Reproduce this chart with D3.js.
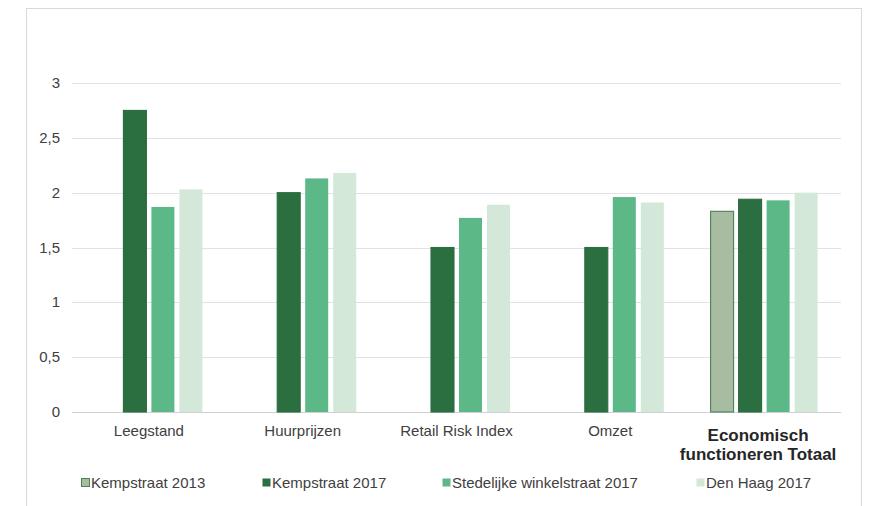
<!DOCTYPE html>
<html>
<head>
<meta charset="utf-8">
<script src="https://cdn.jsdelivr.net/npm/d3@7"></script>
<style>
  body { margin: 0; background: #fff; }
  text { font-family: "Liberation Sans", Arial, sans-serif; fill: #404040; }
</style>
</head>
<body>
<div id="dataviz"></div>
<script>
// data
var categories = ["Leegstand", "Huurprijzen", "Retail Risk Index", "Omzet", "Economisch functioneren Totaal"];
var seriesNames = ["Kempstraat 2013", "Kempstraat 2017", "Stedelijke winkelstraat 2017", "Den Haag 2017"];
var kemp2013 = [null, null, null, null, 1.83];
var kemp2017 = [2.75, 2.0, 1.5, 1.5, 1.94];
var stedelijk2017 = [1.87, 2.13, 1.77, 1.96, 1.93];
var denHaag2017 = [2.03, 2.18, 1.89, 1.91, 2.0];
var yTicks = [0, 0.5, 1, 1.5, 2, 2.5, 3];

var colors = ["#a8bca2", "#2b6e3f", "#5cb887", "#d3e8d8"];
var strokes = ["#4a8058", "#2b6e3f", "none", "none"];

var width = 871, height = 506;
var margin = { left: 72, right: 30, top: 83, bottom: 94 };

var svg = d3.select("#dataviz")
    .append("svg")
    .attr("width", width)
    .attr("height", height);

// chart border
svg.append("rect")
    .attr("x", 26.5).attr("y", 8.5)
    .attr("width", 835).attr("height", 510)
    .attr("fill", "none")
    .attr("stroke", "#d9d9d9");

var x0 = d3.scaleBand()
    .domain(categories)
    .range([margin.left, width - margin.right])
    .paddingInner(0)
    .paddingOuter(0);

var x1 = d3.scaleBand()
    .domain(seriesNames)
    .range([0, 112])
    .padding(0);

var y = d3.scaleLinear()
    .domain([0, 3])
    .range([412, 83]);

// gridlines
svg.append("g")
    .selectAll("line")
    .data(yTicks)
    .enter().append("line")
    .attr("x1", margin.left)
    .attr("x2", width - margin.right)
    .attr("y1", d => Math.round(y(d)) + 0.5)
    .attr("y2", d => Math.round(y(d)) + 0.5)
    .attr("stroke", d => d === 0 ? "#d0d0d0" : "#e2e2e2")
    .attr("stroke-width", 1);

// y labels
svg.append("g")
    .selectAll("text")
    .data(yTicks)
    .enter().append("text")
    .attr("x", 60)
    .attr("y", d => y(d) + 5)
    .attr("text-anchor", "end")
    .style("font-size", "15px")
    .text(d => String(d).replace(".", ","));

var allSeries = [kemp2013, kemp2017, stedelijk2017, denHaag2017];

var rows = [];
categories.forEach(function (c, i) {
    allSeries.forEach(function (s, j) {
        if (s[i] != null) rows.push({ cat: c, series: seriesNames[j], idx: j, value: s[i] });
    });
});

svg.append("g")
    .selectAll("rect")
    .data(rows)
    .enter().append("rect")
    .attr("x", d => x0(d.cat) + x0.bandwidth() / 2 - 56 + x1(d.series) + 2.5)
    .attr("y", d => y(d.value))
    .attr("width", x1.bandwidth() - 5)
    .attr("height", d => y(0) - y(d.value))
    .attr("fill", d => colors[d.idx])
    .attr("stroke", d => strokes[d.idx])
    .attr("stroke-width", 1.1);

// category labels
categories.forEach(function (c, i) {
    var cx = x0(c) + x0.bandwidth() / 2;
    if (i === categories.length - 1) {
        var t = svg.append("text")
            .attr("x", cx - 6)
            .attr("y", 441)
            .attr("text-anchor", "middle")
            .style("font-size", "17px")
            .style("font-weight", "bold")
            .style("fill", "#262626");
        t.append("tspan").attr("x", cx - 6).text("Economisch");
        t.append("tspan").attr("x", cx - 6).attr("dy", 19).text("functioneren Totaal");
    } else {
        svg.append("text")
            .attr("x", cx)
            .attr("y", 436)
            .attr("text-anchor", "middle")
            .style("font-size", "15px")
            .text(c);
    }
});

// legend
var legendX = [81, 262, 442, 696];
var legend = svg.append("g")
    .selectAll("g")
    .data(seriesNames)
    .enter().append("g")
    .attr("transform", (d, i) => `translate(${legendX[i]},478)`);

legend.append("rect")
    .attr("x", 0.5).attr("y", 0.5)
    .attr("width", 8).attr("height", 8)
    .attr("fill", (d, i) => colors[i])
    .attr("stroke", (d, i) => i === 0 ? strokes[0] : "none");

legend.append("text")
    .attr("x", 10)
    .attr("y", 10)
    .style("font-size", "15px")
    .text(d => d);
</script>
</body>
</html>
